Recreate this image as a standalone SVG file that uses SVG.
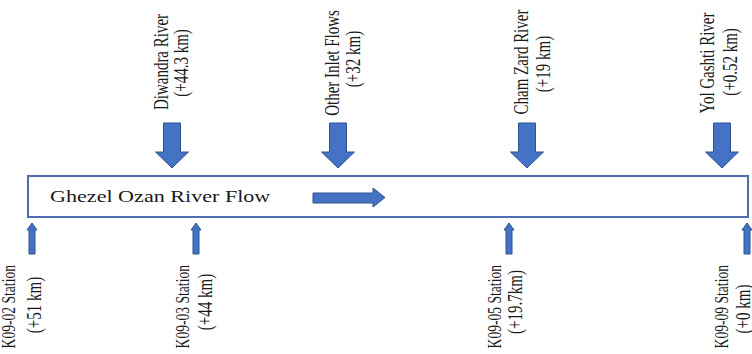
<svg xmlns="http://www.w3.org/2000/svg" xmlns:xlink="http://www.w3.org/1999/xlink" width="752" height="354" viewBox="0 0 752 354">
<style>
.t{font-family:"Liberation Serif","Times New Roman",serif;font-size:15px;fill:#1a1a1a}
.s{font-family:"Liberation Serif","Times New Roman",serif;font-size:13.6px;fill:#1a1a1a}
.h{font-family:"Liberation Serif","Times New Roman",serif;font-size:16.5px;fill:#1a1a1a}
.arr{fill:#4472C4;stroke:#2F528F;stroke-width:1}
.box{fill:#ffffff;stroke:#4A6EB0;stroke-width:2}
</style>
<defs>
<path id="down" d="M-8.5,0 H8.5 V29 H16.5 L0,45 L-16.5,29 H-8.5 Z"/>
<path id="up" d="M0,0 L5,7 H3 V31 H-3 V7 H-5 Z"/>
</defs>
<rect width="752" height="354" fill="#ffffff"/>
<g id="river">
<rect class="box" x="28" y="176" width="720" height="41"/>
<text class="h" transform="translate(50,202) scale(1.34,1)">Ghezel Ozan River Flow</text>
</g>
<g id="connectors">
<use xlink:href="#down" class="arr" transform="translate(172,123)"/>
<use xlink:href="#down" class="arr" transform="translate(338,123)"/>
<use xlink:href="#down" class="arr" transform="translate(527,123)"/>
<use xlink:href="#down" class="arr" transform="translate(722,123)"/>
<use xlink:href="#up" class="arr" transform="translate(32,223)"/>
<use xlink:href="#up" class="arr" transform="translate(196,223)"/>
<use xlink:href="#up" class="arr" transform="translate(509,223)"/>
<use xlink:href="#up" class="arr" transform="translate(747,223)"/>
<path class="arr" d="M313,193 H373 V188 L385,197.5 L373,207 V203 H313 Z"/>
</g>
<g id="diwandra">
<text class="t" text-anchor="middle" transform="translate(168,62) scale(1.33,1) rotate(-90)">Diwandra River</text>
<text class="t" text-anchor="middle" transform="translate(188,63) scale(1.33,1) rotate(-90)">(+44.3 km)</text>
</g>
<g id="other-inlet">
<text class="t" text-anchor="middle" transform="translate(339,63) scale(1.33,1) rotate(-90)">Other Inlet Flows</text>
<text class="t" text-anchor="middle" transform="translate(360,59) scale(1.33,1) rotate(-90)">(+32 km)</text>
</g>
<g id="cham-zard">
<text class="t" text-anchor="middle" transform="translate(528,62) scale(1.33,1) rotate(-90)">Cham Zard River</text>
<text class="t" text-anchor="middle" transform="translate(550,64) scale(1.33,1) rotate(-90)">(+19 km)</text>
</g>
<g id="yol-gashti">
<text class="t" text-anchor="middle" transform="translate(714,63) scale(1.33,1) rotate(-90)">Yol Gashti River</text>
<text class="t" text-anchor="middle" transform="translate(737,62) scale(1.33,1) rotate(-90)">(+0.52 km)</text>
</g>
<g id="k09-02">
<text class="s" text-anchor="end" transform="translate(15,265) scale(1.4,1) rotate(-90)">K09-02 Station</text>
<text class="t" text-anchor="middle" transform="translate(41,305) scale(1.33,1) rotate(-90)">(+51 km)</text>
</g>
<g id="k09-03">
<text class="s" text-anchor="end" transform="translate(189,265) scale(1.4,1) rotate(-90)">K09-03 Station</text>
<text class="t" text-anchor="middle" transform="translate(212,302) scale(1.33,1) rotate(-90)">(+44 km)</text>
</g>
<g id="k09-05">
<text class="s" text-anchor="end" transform="translate(501,265) scale(1.4,1) rotate(-90)">K09-05 Station</text>
<text class="t" text-anchor="middle" transform="translate(522,302) scale(1.33,1) rotate(-90)">(+19.7km)</text>
</g>
<g id="k09-09">
<text class="s" text-anchor="end" transform="translate(728,265) scale(1.4,1) rotate(-90)">K09-09 Station</text>
<text class="t" text-anchor="middle" transform="translate(750,309) scale(1.33,1) rotate(-90)">(+0 km)</text>
</g>
</svg>
